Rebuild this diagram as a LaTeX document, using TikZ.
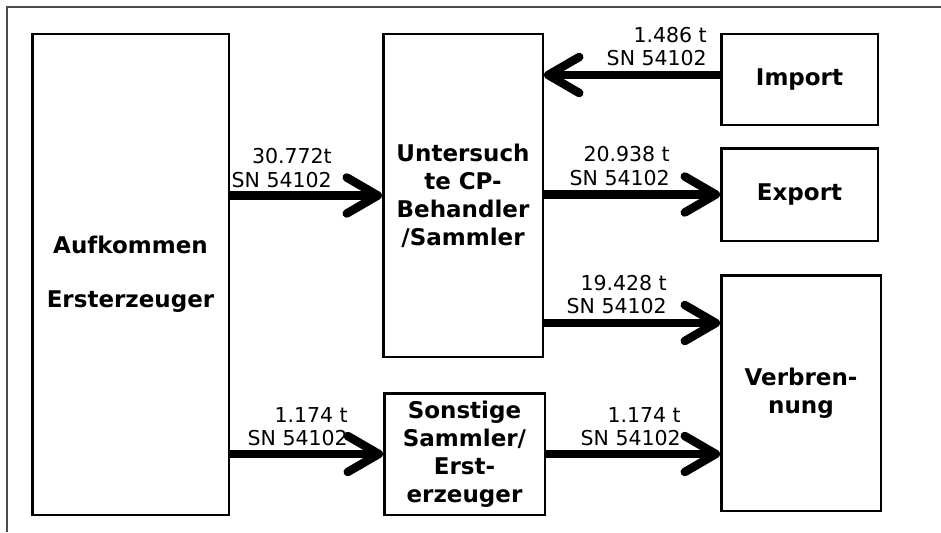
\documentclass[tikz,border=0pt]{standalone}
\usepackage{fontspec}
\setmainfont{DejaVu Sans}
\usetikzlibrary{arrows.meta}

\tikzset{
  kasten/.style={draw, line width=2.5pt, inner sep=0pt, align=center,
    font=\fontsize{23}{28}\selectfont\bfseries},
  fluss/.style={line width=8.5pt, -{Straight Barb[length=31pt,width=36pt,round]}},
  menge/.style={inner sep=0pt, align=right, anchor=south east,
    font=\fontsize{20.5}{23.5}\selectfont},
}

\begin{document}
\begin{tikzpicture}[x=1pt,y=-1pt]
  \useasboundingbox (0,0) rectangle (941,532);
  % Rahmen
  \draw[black!70, line width=1.3pt] (7,532) -- (7,7) -- (941,7);

  % Kaesten
  \node[kasten, minimum width=196.5pt, minimum height=480.5pt] (auf) at (130.5,274.5)
    {Aufkommen\\[26pt]Ersterzeuger};
  \node[kasten, minimum width=159.5pt, minimum height=322.5pt] (cp) at (463,195.5)
    {Untersuch\\te CP-\\Behandler\\/Sammler};
  \node[kasten, minimum width=156.5pt, minimum height=90.5pt] (imp) at (799.5,79.5) {Import};
  \node[kasten, minimum width=156.5pt, minimum height=92.5pt] (exp) at (799.5,194.5) {Export};
  \node[kasten, minimum width=159.5pt, minimum height=235.5pt] (verb) at (801,393)
    {Verbren-\\nung};
  \node[kasten, minimum width=160.5pt, minimum height=121.5pt] (son) at (464.5,454)
    {Sonstige\\Sammler/\\Erst-\\erzeuger};

  % Stroeme
  \coordinate (i) at ([yshift=4.5pt]imp.west);
  \coordinate (v) at ([yshift=-49pt]verb.north west);
  \coordinate (w) at (verb.west |- son.east);
  \draw[fluss] (auf.east |- cp.west) -- (cp.west);
  \draw[fluss] (i) -- (cp.east |- i);
  \draw[fluss] (cp.east |- exp.west) -- (exp.west);
  \draw[fluss] (cp.east |- v) -- (v);
  \draw[fluss] (auf.east |- son.west) -- (son.west);
  \draw[fluss] (son.east) -- (w);

  % Mengen
  \node[menge] (m1) at ([xshift=-50pt,yshift=8pt]cp.west) {30.772t\\SN 54102};
  \node[menge] (m2) at ([xshift=-13pt,yshift=9pt]i) {1.486 t\\SN 54102};
  \node[menge] (m3) at ([xshift=-50pt,yshift=9pt]exp.west) {20.938 t\\SN 54102};
  \node[menge] (m4) at ([xshift=-53pt,yshift=9pt]v) {19.428 t\\SN 54102};
  \node[menge] (m5) at ([xshift=-35pt,yshift=8pt]son.west) {1.174 t\\SN 54102};
  \node[menge] (m6) at ([xshift=-39pt,yshift=8pt]w) {1.174 t\\SN 54102};
\end{tikzpicture}
\end{document}
